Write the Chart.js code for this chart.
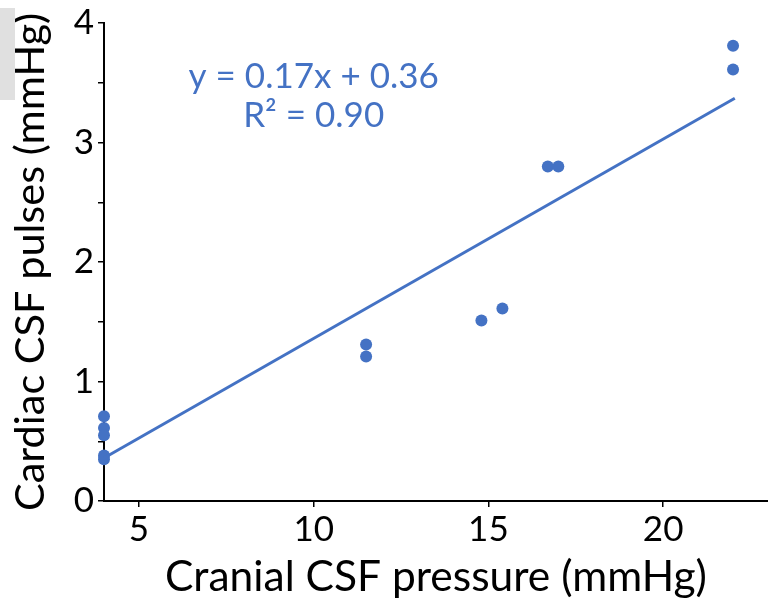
<!DOCTYPE html>
<html>
<head>
<meta charset="utf-8">
<script src="https://cdn.jsdelivr.net/npm/chart.js"></script>
<style>
  html, body { margin: 0; padding: 0; background: #fff; overflow: hidden; }
  #wrap { position: relative; width: 768px; height: 603px; overflow: hidden; }
  #patch { position: absolute; left: 0; top: 8px; width: 15px; height: 92px; background: #e0e0e0; }
</style>
</head>
<body>
<div id="wrap">
  <!-- a bit wider than the window so the x axis runs off the right edge like the original crop -->
  <canvas id="plot-csf" width="774" height="603"></canvas>
  <div id="patch"></div>
</div>
<script>
// values
const cranialPressure = [4, 4, 4, 4, 4, 11.5, 11.5, 14.8, 15.4, 16.7, 17.0, 22, 22];
const cardiacPulses = [0.71, 0.61, 0.55, 0.38, 0.35, 1.31, 1.21, 1.51, 1.61, 2.8, 2.8, 3.81, 3.61];
const fitX = [4, 22.05];
const fitY = [0.36, 3.37];
const xTicks = [5, 10, 15, 20];
const equationLines = ["y = 0.17x + 0.36", "R\u00B2 = 0.90"];
const equationAt = [[10, 3.46], [10, 3.13]];

const blue = "#4472c4";
const fontFamily = "Lato, 'Open Sans', sans-serif";

const points = cranialPressure.map((x, i) => ({ x: x, y: cardiacPulses[i] }));
const fitLine = fitX.map((x, i) => ({ x: x, y: fitY[i] }));

// draws the regression equation at data coordinates
const equationText = {
  id: "equationText",
  afterDatasetsDraw(chart) {
    const ctx = chart.ctx;
    const xs = chart.scales.x, ys = chart.scales.y;
    ctx.save();
    ctx.fillStyle = blue;
    ctx.font = "35px " + fontFamily;
    ctx.textAlign = "center";
    ctx.textBaseline = "alphabetic";
    equationLines.forEach((t, i) => {
      ctx.fillText(t, xs.getPixelForValue(equationAt[i][0]), ys.getPixelForValue(equationAt[i][1]));
    });
    ctx.restore();
  }
};

new Chart("plot-csf", {
  type: "scatter",
  data: {
    datasets: [
      {
        label: "fit",
        type: "line",
        data: fitLine,
        borderColor: blue,
        borderWidth: 3,
        pointRadius: 0,
        fill: false,
        clip: false
      },
      {
        label: "measured",
        data: points,
        backgroundColor: blue,
        borderColor: blue,
        pointRadius: 6,
        borderWidth: 0,
        clip: false
      }
    ]
  },
  options: {
    responsive: false,
    animation: false,
    devicePixelRatio: 1,
    layout: { padding: { top: 23, right: 0, left: 0, bottom: 0 } },
    plugins: {
      legend: { display: false },
      tooltip: { enabled: false }
    },
    scales: {
      x: {
        type: "linear",
        min: 4,
        max: 23,
        afterBuildTicks: (scale) => { scale.ticks = xTicks.map(v => ({ value: v })); },
        afterFit: (scale) => {
          scale.height = 102;
          scale.paddingLeft = 0;
          scale.paddingRight = 0;
        },
        border: { color: "#000", width: 2 },
        grid: { drawOnChartArea: false, color: "#000", tickLength: 6, lineWidth: 1.5 },
        ticks: { color: "#000", font: { family: fontFamily, size: 35 }, padding: 2, maxRotation: 0 },
        title: {
          display: true,
          text: "Cranial CSF pressure (mmHg)",
          color: "#000",
          font: { family: fontFamily, size: 42.5 },
          padding: { top: 0, bottom: 0 }
        }
      },
      y: {
        min: 0,
        max: 4,
        ticks: {
          stepSize: 0.5,
          color: "#000",
          font: { family: fontFamily, size: 35 },
          padding: 4,
          callback: (v) => (Number.isInteger(v) ? v : "")
        },
        afterFit: (scale) => {
          scale.width = 104;
          scale.paddingTop = 0;
          scale.paddingBottom = 0;
        },
        border: { color: "#000", width: 2 },
        grid: { drawOnChartArea: false, color: "#000", tickLength: 6, lineWidth: 1.5 },
        title: {
          display: true,
          text: "Cardiac CSF pulses (mmHg)",
          color: "#000",
          font: { family: fontFamily, size: 41.5 },
          padding: { top: 6, bottom: 0 }
        }
      }
    }
  },
  plugins: [equationText]
});
</script>
</body>
</html>
